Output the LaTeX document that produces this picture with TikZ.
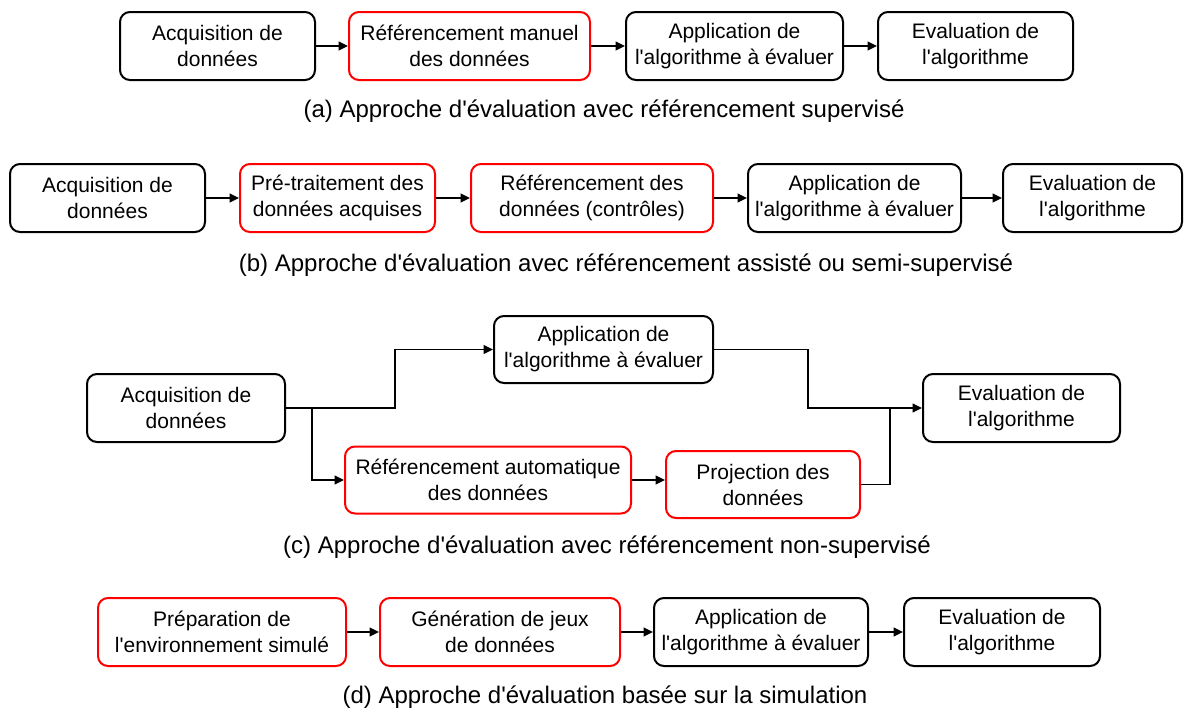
\documentclass[tikz,border=0pt]{standalone}
\usepackage{fontspec}
\setmainfont{Liberation Sans}[Ligatures=TeXOff]
\usetikzlibrary{arrows.meta}
\begin{document}
\begin{tikzpicture}[x=0.75pt,y=-0.75pt,
  box/.style={draw=black, line width=1.5pt, rounded corners=7.5pt, align=center,
    font=\fontsize{15.75}{19.5}\selectfont, minimum height=51pt, inner sep=0pt},
  rbox/.style={box, draw=red},
  captxt/.style={font=\fontsize{18}{22}\selectfont},
  ln/.style={line width=1.3pt},
  arr/.style={ln, -{Triangle[length=7pt,width=6.5pt]}}
]
\useasboundingbox (0,0) rectangle (1192,711);

% (a)
\node[box, minimum width=146.25pt] (a1) at (217.5,46) {Acquisition de\\données};
\node[rbox, minimum width=180.75pt] (a2) at (469.5,46) {Référencement manuel\\des données};
\node[box, minimum width=162.75pt] (a3) at (734.5,46) {Application de\\l'algorithme à évaluer};
\node[box, minimum width=146.25pt] (a4) at (975.5,46) {Evaluation de\\l'algorithme};
\draw[arr] (a1) -- (a2);
\draw[arr] (a2) -- (a3);
\draw[arr] (a3) -- (a4);
\node[captxt] (ca) at (604,111) {(a) Approche d'évaluation avec référencement supervisé};

% (b)
\node[box, minimum width=146.25pt] (b1) at (107.5,198) {Acquisition de\\données};
\node[rbox, minimum width=146.25pt] (b2) at (337.5,198) {Pré-traitement des\\données acquises};
\node[rbox, minimum width=181.5pt] (b3) at (592,198) {Référencement des\\données (contrôles)};
\node[box, minimum width=159.75pt] (b4) at (854.5,198) {Application de\\l'algorithme à évaluer};
\node[box, minimum width=134.25pt] (b5) at (1092.5,198) {Evaluation de\\l'algorithme};
\draw[arr] (b1) -- (b2);
\draw[arr] (b2) -- (b3);
\draw[arr] (b3) -- (b4);
\draw[arr] (b4) -- (b5);
\node[captxt] (cb) at (626,265) {(b) Approche d'évaluation avec référencement assisté ou semi-supervisé};

% (c)
\node[box, minimum width=148.5pt] (c1) at (186,408) {Acquisition de\\données};
\node[box, minimum width=164.25pt, minimum height=50.25pt] (c2) at (603.5,349.5) {Application de\\l'algorithme à évaluer};
\node[box, minimum width=147.75pt] (c3) at (1021.5,408) {Evaluation de\\l'algorithme};
\node[rbox, minimum width=214.5pt, minimum height=50.25pt] (c4) at (488,480) {Référencement automatique\\des données};
\node[rbox, minimum width=145.5pt, minimum height=50.25pt] (c5) at (763,484.5) {Projection des\\données};
\coordinate (j1) at (312,408);
\coordinate (j2) at (395,408);
\coordinate (j3) at (808,408);
\coordinate (j4) at (890,408);
\draw[arr] (c1.east) -- (j2) |- (c2.west);
\draw[arr] (j1) |- (c4.west);
\draw[arr] (c2.east) -| (j3) -- (c3.west);
\draw[ln] (c5.east) -| (j4);
\draw[arr] (c4.east) -- (c4.east -| c5.west);
\node[captxt] (cc) at (607,547) {(c) Approche d'évaluation avec référencement non-supervisé};

% (d)
\node[rbox, minimum width=186pt] (d1) at (222,632) {Préparation de\\l'environnement simulé};
\node[rbox, minimum width=180pt] (d2) at (500,632) {Génération de jeux\\de données};
\node[box, minimum width=160.5pt] (d3) at (761,632) {Application de\\l'algorithme à évaluer};
\node[box, minimum width=147pt] (d4) at (1002,632) {Evaluation de\\l'algorithme};
\draw[arr] (d1) -- (d2);
\draw[arr] (d2) -- (d3);
\draw[arr] (d3) -- (d4);
\node[captxt] (cd) at (605,697) {(d) Approche d'évaluation basée sur la simulation};
\end{tikzpicture}
\end{document}
